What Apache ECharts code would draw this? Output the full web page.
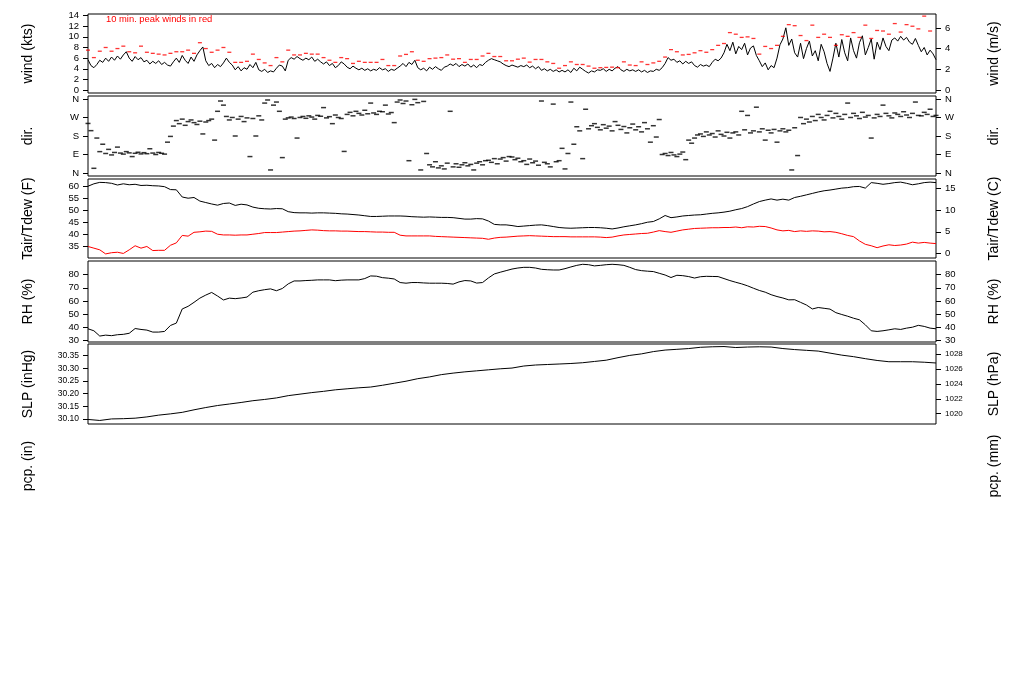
<!DOCTYPE html>
<html><head><meta charset="utf-8">
<script src="https://cdn.jsdelivr.net/npm/echarts@6/dist/echarts.min.js"></script>
<style>html,body{margin:0;padding:0;background:#fff}#c{width:1024px;height:700px}</style>
</head><body><div id="c"></div>
<script>
// time span in hours (x axis, no labels drawn)
const HOURS = 144;
// wind speed (kts), every 0.5 h
const windKts = [5.7,4.6,4.2,4.8, 5.6,5.2,6.0,5.4, 6.2,5.6,6.4,5.8,6.6,7.2, 6.0,5.4,6.3,5.7,6.1,5.3, 5.6,4.9,5.4,5.0,5.5,4.8,5.2,4.7, 4.5,5.3,6.0,5.2,6.5,5.6,5.0,6.2,5.4,6.6, 7.4,8.1, 5.5,4.6,5.0,4.2,4.8,4.4,5.1,6.0,5.2,4.7, 3.8,4.4,3.6,4.2,3.9,4.8,4.2,5.2, 3.8,3.5,3.9,3.3,3.6,3.4,4.1,4.7,4.5,3.6, 5.6,6.1,5.8,6.3,5.9,5.6,6.0,5.7,6.2,5.4,5.8,5.3, 4.9,5.3,4.6,5.0,4.2,4.6,5.3,4.9, 4.3,4.0,4.5,4.1, 3.8,4.1,3.7,4.0,3.6,3.9,3.7,4.2,3.8,4.0,3.5,3.9,3.7,4.1, 4.5,5.0,4.4,5.2,4.8,5.6, 4.2,3.8,4.1,3.6,4.3,3.9,4.4,4.0,3.7,4.3, 4.5,4.9,4.6,5.0,4.4,4.8,4.5,4.9, 4.3,4.7,4.2,4.8,4.6,5.2, 5.6,5.9,5.7,5.5,5.3,4.9, 4.6,4.4,4.7,4.5,4.3,4.6,4.4,4.7,4.2,4.5,4.0,4.4, 3.7,4.0,3.6,3.9,3.5,3.8,3.4,3.7, 3.4,3.8,3.3,4.1,3.6,4.3,3.9,3.5,3.2,3.6,3.4,3.8, 3.7,4.0,3.5,3.9,3.6,4.1,4.4,3.8,3.5,3.9,3.6,3.8, 3.5,3.8,3.4,3.7,3.3,3.6,3.5,3.9,3.7,4.2, 5.0,6.1, 5.6,5.8,5.2,5.5,4.9,5.4,5.0,5.3, 4.6,4.3,4.8,4.5,4.7,4.4, 5.2,5.8,5.5,6.0, 7.0,8.6,7.4,9.0,6.8,8.2,7.6,8.8,6.6,7.9,8.3,6.5, 5.5,4.4,5.1,3.8,4.6,4.2, 6.0,8.5,9.6,11.7, 8.4,9.6,7.0,6.2,8.8,5.9,7.8,9.2,6.4,7.4,5.5,8.6,7.2,5.0, 3.5,6.0, 8.8,6.2,9.5,7.0,5.5,9.8,7.4,6.0,8.9,10.2,6.6,8.0,9.6,5.8, 9.0,7.6,9.8,8.2,7.4,9.4, 9.8,9.2,10.1,9.4,9.9,9.0,8.6,9.7, 8.4,7.2,8.0,6.6,7.5,6.8,5.7];
// 10-min peak winds (kts), hourly
const peakKts = [7.5,6.1,7.3,8.0,7.3,7.8,8.25,7.2,7.0,8.25,
 7.1,6.9,6.75,6.6,6.9,7.2,7.2,7.5,6.9,8.9,
 7.8,7.1,7.5,8.0,7.1,5.2,5.2,5.4,6.75,5.75,
 5.1,4.6,6.1,5.3,7.5,6.6,6.6,6.9,6.75,6.75,
 6.1,5.6,5.2,6.1,5.9,5.0,5.4,5.2,5.2,5.2,
 5.75,4.6,4.6,6.4,6.7,7.2,5.6,5.4,5.9,6.0,
 6.1,6.6,5.8,5.9,5.2,5.75,5.75,6.4,6.9,6.3,
 6.3,5.5,5.5,5.8,6.0,5.25,5.75,5.75,5.3,5.0,
 4.1,4.6,5.3,4.8,4.8,4.5,4.1,4.2,4.25,4.3,
 4.2,5.3,4.7,4.6,5.3,4.8,5.1,5.4,6.2,7.6,
 7.2,6.6,6.7,7.0,7.4,7.1,7.6,8.4,8.75,10.8,
 10.5,9.9,10.0,9.7,6.75,8.2,7.8,8.4,10.1,12.3,
 12.1,10.25,9.3,12.2,9.9,10.5,9.9,8.4,10.4,10.1,
 10.8,9.9,12.2,9.7,11.2,11.1,10.5,12.5,10.9,12.3,
 12.0,11.5,13.9,11.1,null];
// wind direction (degrees), every 0.5 h
const dirDeg = [241,206,23,170, 104,140,95,115, 88,100,126,97, 92,104,98,80, 96,101,93,99, 94,118,97,90, 100,96,92,150,
 178,228,255,240, 262,232,250,258, 245,236,252,190, 248,255,262,160, 300,350,330,275, 258,270,180,262, 275,250,268,80,
 265,180,278,258, 340,355,15,330, 345,300,75,262, 268,272,265,170, 270,275,266,278, 272,262,280,276, 318,268,274,240,
 282,270,265,105, 285,295,278,300, 290,282,305,288, 340,292,285,300, 298,330,287,294, 245,345,355,338, 350,60,332,358,
 342,15,348,95, 40,30,55,25, 35,20,48,300, 30,45,28,40, 50,35,42,15, 48,55,40,60, 62,52,70,45, 68,75,58,80,
 78,65,72,55, 60,42,68,50, 58,38,350,52, 45,30,335,55, 60,120,20,95, 345,140,225,205, 70,310,215,230, 240,222,210,235,
 218,228,205,250, 232,212,226,195, 220,238,210,225, 200,245,215,150, 230,175,260,90, 95,85,100,88, 80,92,102,65,
 160,145,170,185, 190,178,200,185, 192,175,205,188, 180,198,170,195, 200,185,300,210, 280,195,205,320, 200,215,160,208,
 195,212,150,205, 215,200,208,15, 220,85,270,240, 262,248,275,255, 285,270,258,280, 300,268,290,275, 262,285,340,270,
 290,278,265,295, 272,280,170,268, 285,275,330,290, 278,268,292,285, 275,298,282,270, 290,345,280,278, 295,285,310,275, 280];
// air temperature (F), hourly
const tairF = [60,61,61.6,61.5,61.2,60.5,61,60.6,60.8,60.3,
 60.4,60.2,60.1,59.8,58.6,58.5,55.5,55,55.3,53.8,
 53.2,52.6,52.1,52.8,53,52,52.5,52.2,51.3,50.8,
 50.6,50.5,50.7,50.6,49.4,49,48.9,48.9,48.8,48.9,
 48.9,48.8,48.7,48.5,48.4,48.2,48.0,47.7,47.4,47.4,
 47.5,47.6,47.6,47.6,47.5,47.3,47.2,47.1,47.2,47.1,
 47.0,47.0,46.9,46.6,46.3,46.3,46.5,46.4,45.5,44.1,
 43.9,43.9,43.6,43.2,43.4,43.6,43.8,43.9,43.6,43.2,
 42.8,42.6,42.5,42.6,42.7,42.8,42.8,42.7,42.5,42.2,
 42.6,43.1,43.5,43.9,44.4,45,45.3,46.4,47.8,46.9,
 47.2,47.6,47.8,48.0,48.1,48.4,48.7,48.9,49.2,49.6,
 50.2,50.7,51.5,52.6,53.6,54.2,54.7,54.2,54.6,54.2,
 55.3,55.8,56.4,57.0,57.6,58.1,58.4,58.8,59.2,59.4,
 59.8,59.9,59.2,61.5,61.2,60.8,61.1,61.5,61.7,61.2,
 60.6,61.0,61.5,61.7,61.5];
// dew point (F), hourly
const tdewF = [34.9,34.2,33.5,31.8,32.3,32.5,32,33.5,35.2,34.2,
 34.9,33.2,33.3,33.3,35.4,36.4,39.5,39.2,40.8,41,
 41.3,41.2,40,39.7,39.7,39.6,39.7,39.7,40,40.3,
 40.7,40.7,40.7,40.9,41.1,41.3,41.4,41.6,41.8,41.7,
 41.5,41.4,41.4,41.3,41.3,41.2,41.1,41.1,41.0,40.9,
 40.9,40.8,40.8,39.6,39.3,39.3,39.3,39.3,39.3,39.1,
 39.0,38.9,38.8,38.7,38.6,38.5,38.4,38.3,37.9,38.4,
 38.7,38.8,39.0,39.2,39.3,39.4,39.3,39.2,39.1,39.0,
 39.0,39.0,38.9,38.9,38.9,38.9,38.9,38.8,38.6,38.8,
 39.3,39.7,39.9,40.1,40.3,40.4,40.9,41.5,41.1,40.8,
 41.3,41.8,42.1,42.4,42.5,42.6,42.7,42.7,42.8,42.8,
 43.0,42.7,43.1,43.0,43.3,43.2,42.6,41.8,41.4,41.6,
 41.1,41.4,41.2,41.4,41.3,41.0,41.1,40.8,40.2,39.5,
 39.0,37.2,35.8,35.2,34.4,35.1,35.6,35.3,35.5,35.9,
 36.7,36.3,36.6,36.3,36.1];
// relative humidity (%), hourly
const rhPct = [39,37.5,33.5,34.2,33.8,34.5,34.8,35.6,39.2,38.5,
 38,36.5,36.5,37,41.5,43.3,54,56,59,62.2,
 64.5,66.5,63.8,60.8,62.2,61.8,62.3,63,66.7,67.8,
 68.6,69.2,67.8,69.5,73,75.2,75.2,75.5,75.7,76,
 76,76,75.4,75.8,76,76,76,77,79,78.8,
 77.7,77.3,76.7,74,73.5,74,74,73.7,73.5,73.5,
 73.5,73.3,72.8,74.5,75.5,75.2,73.6,74,77.5,80.5,
 81.8,83,84.2,85,85.5,85.5,85,84,83.7,83.5,
 83.5,84.5,85.8,87,87.8,87.5,86.6,87,87.5,87.8,
 87.5,87,85.5,83.8,83,82.6,82.3,81,79.7,77.8,
 79.5,79.2,78.5,77.4,78.4,78.7,78.6,78.5,77,75.5,
 74.2,73,71.5,69.7,68,66.7,64.8,63.4,62.3,60.9,
 61,59,57,54,55.1,54.5,53.9,51.2,49.8,48.5,
 47,45.8,42,37.5,37,37.5,38.2,39,38.5,39.5,
 40.2,41.6,40.8,39.5,39];
// sea level pressure (inHg), every 2 h
const slpInHg = [30.098,30.094,30.100,30.101,30.103,30.108,30.115,30.120,30.126,30.136,
 30.145,30.153,30.159,30.165,30.172,30.177,30.183,30.192,30.198,30.204,
 30.209,30.215,30.219,30.223,30.226,30.233,30.241,30.249,30.259,30.266,
 30.275,30.281,30.286,30.290,30.294,30.298,30.301,30.309,30.313,30.315,
 30.317,30.319,30.322,30.327,30.332,30.342,30.351,30.357,30.366,30.372,
 30.375,30.378,30.383,30.385,30.386,30.382,30.384,30.385,30.384,30.378,
 30.374,30.371,30.368,30.360,30.352,30.346,30.338,30.331,30.326,30.326,
 30.326,30.324,30.321];
// tick values / labels
const windTicksKts = [0,2,4,6,8,10,12,14];
const windTicksMs = [0,2,4,6];
const dirTicks = [0,90,180,270,360];
const dirLabels = ['N','E','S','W','N'];
const tempTicksF = [35,40,45,50,55,60];
const tempTicksC = [0,5,10,15];
const rhTicks = [30,40,50,60,70,80];
const slpTicksInHg = [30.10,30.15,30.20,30.25,30.30,30.35];
const slpTicksHpa = [1020,1022,1024,1026,1028];

const KTS_PER_MS = 1/0.514444, HPA_PER_INHG = 33.8639;
function toXY(arr){ const step = HOURS/(arr.length-1); return arr.map((v,i)=>[i*step, v]).filter(p=>p[1]!=null); }

const FONT = 'Liberation Sans, Arial, sans-serif';
const L = 88, R = 88;
const grids = [
  {top:14, height:79}, {top:96, height:80}, {top:179, height:79},
  {top:261, height:81}, {top:344, height:80}, {top:426, height:80}
].map((g,i)=>({left:L, right:R, top:g.top, height:g.height, show:i<5, borderColor:'#000', borderWidth:1, backgroundColor:'transparent'}));

function yAx(gi, pos, min, max, ticks, fmt, name, fs, gap){
  return {type:'value', gridIndex:gi, position:pos, min:min, max:max,
    splitLine:{show:false}, axisLine:{show:false},
    axisTick:{show:ticks.length>0, inside:false, length:5, customValues:ticks, lineStyle:{color:'#000', width:1}},
    axisLabel:{show:ticks.length>0, customValues:ticks, formatter:fmt, fontSize:fs, color:'#000', margin:9, fontFamily:FONT},
    name:name, nameLocation:'middle', nameRotate:90, nameGap:gap,
    nameTextStyle:{fontSize:14, color:'#000', fontFamily:FONT}};
}
const dirFmt = v => dirLabels[dirTicks.indexOf(Math.round(v))];
const LG = 53, RG = 51;
const yAxes = [
  yAx(0,'left',-0.56,14.3,windTicksKts,v=>String(v),'wind (kts)',9.5,LG),
  yAx(0,'right',-0.56,14.3,windTicksMs.map(v=>v*KTS_PER_MS),v=>String(Math.round(v/KTS_PER_MS)),'wind (m/s)',9.5,RG),
  yAx(1,'left',-14.4,374.4,dirTicks,dirFmt,'dir.',9.5,LG),
  yAx(1,'right',-14.4,374.4,dirTicks,dirFmt,'dir.',9.5,RG),
  yAx(2,'left',30.1,63.0,tempTicksF,v=>String(v),'Tair/Tdew (F)',9.5,LG),
  yAx(2,'right',30.1,63.0,tempTicksC.map(c=>c*1.8+32),v=>String(Math.round((v-32)/1.8)),'Tair/Tdew (C)',9.5,RG),
  yAx(3,'left',29.0,90.3,rhTicks,v=>String(v),'RH (%)',9.5,LG),
  yAx(3,'right',29.0,90.3,rhTicks,v=>String(v),'RH (%)',9.5,RG),
  yAx(4,'left',30.080,30.396,slpTicksInHg,v=>v.toFixed(2),'SLP (inHg)',8.5,LG),
  yAx(4,'right',30.080,30.396,slpTicksHpa.map(h=>h/HPA_PER_INHG),v=>String(Math.round(v*HPA_PER_INHG)),'SLP (hPa)',8,RG),
  yAx(5,'left',0,1,[],null,'pcp. (in)',9.5,LG),
  yAx(5,'right',0,1,[],null,'pcp. (mm)',9.5,RG)
];
const xAxes = grids.map((g,i)=>({type:'value', gridIndex:i, min:0, max:HOURS, show:false}));

const line = (xi, yi, data, color) => ({type:'line', xAxisIndex:xi, yAxisIndex:yi, data:data, showSymbol:false, symbol:'none',
  lineStyle:{color:color, width:1}, silent:true, animation:false, z:3});
const dash = (xi, yi, data, color, size) => ({type:'scatter', xAxisIndex:xi, yAxisIndex:yi, data:data, symbol:'rect', symbolSize:size,
  itemStyle:{color:color}, silent:true, animation:false, z:4});

const chart = echarts.init(document.getElementById('c'), null, {renderer:'canvas'});
chart.setOption({
  animation:false,
  backgroundColor:'#fff',
  title:{text:'10 min. peak winds in red', left:106, top:14.5, padding:0,
    textStyle:{fontSize:9.4, fontWeight:'normal', color:'#ff0000', fontFamily:FONT}},
  grid:grids, xAxis:xAxes, yAxis:yAxes,
  series:[
    line(0,0,toXY(windKts),'#000'),
    dash(0,0,toXY(peakKts),'#ff0000',[4,1.3]),
    dash(1,2,toXY(dirDeg),'#000',[5,1.5]),
    line(2,4,toXY(tairF),'#000'),
    line(2,4,toXY(tdewF),'#ff0000'),
    line(3,6,toXY(rhPct),'#000'),
    line(4,8,toXY(slpInHg),'#000')
  ]
});
</script></body></html>
